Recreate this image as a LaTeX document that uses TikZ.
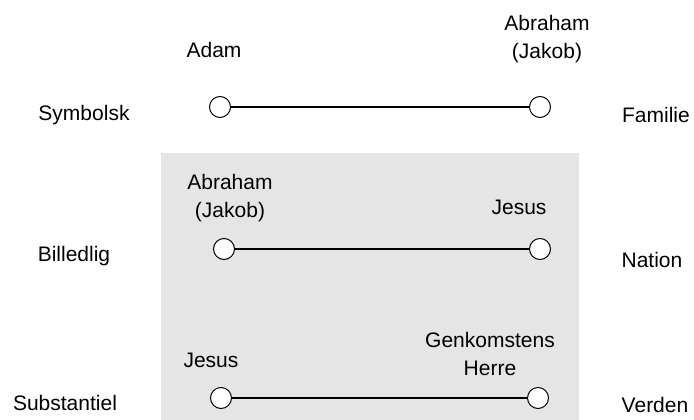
\documentclass[tikz,border=0pt]{standalone}
\usepackage{fontspec}
\newfontfamily\diagfont{Liberation Sans}
\usetikzlibrary{positioning}

\begin{document}
\begin{tikzpicture}[
  x=1pt, y=-1pt,
  endpt/.style={draw, circle, fill=white, inner sep=0pt,
                minimum size=21pt, line width=1pt},
  era/.style={align=center, font=\diagfont\fontsize{21}{28}\selectfont},
  level/.style={font=\diagfont\fontsize{21}{28}\selectfont},
  link/.style={line width=1.6pt},
  shade/.style={fill=black!10}
]
  \useasboundingbox (0,0) rectangle (694,420);

  % --- shaded band ---------------------------------------------------
  \fill[shade] (161,153) rectangle (579,420);

  % --- left column ---------------------------------------------------
  \node[level] (symb) at (84,115) {Symbolsk};
  \node[level] (bill) at (74,256) {Billedlig};
  \node[level] (subs) at (65,403) {Substantiel};

  % --- right column --------------------------------------------------
  \node[level] (fam) at (656,115) {Familie};
  \node[level] (nat) at (652,260) {Nation};
  \node[level] (verd) at (655,405) {Verden};

  % --- end points ----------------------------------------------------
  \node[endpt] (s1) at (220,107) {};
  \node[endpt] (s2) at (540,107) {};
  \node[endpt] (b1) at (224,249) {};
  \node[endpt] (b2) at (540,249) {};
  \node[endpt] (t1) at (221,398) {};
  \node[endpt] (t2) at (538,398) {};

  % --- labels over the end points -------------------------------------
  \node[era] (adam) at (214,50) {Adam};
  \node[era] (abr1) at (547,39) {Abraham\\(Jakob)};
  \node[era] (abr2) at (230,198) {Abraham\\(Jakob)};
  \node[era] (jes1) at (519,207) {Jesus};
  \node[era] (jes2) at (211,360) {Jesus};
  \node[era] (herre) at (490,354) {Genkomstens\\Herre};

  % --- links -----------------------------------------------------------
  \draw[link] (s1) -- (s2);
  \draw[link] (b1) -- (b2);
  \draw[link] (t1) -- (t2);
\end{tikzpicture}
\end{document}
